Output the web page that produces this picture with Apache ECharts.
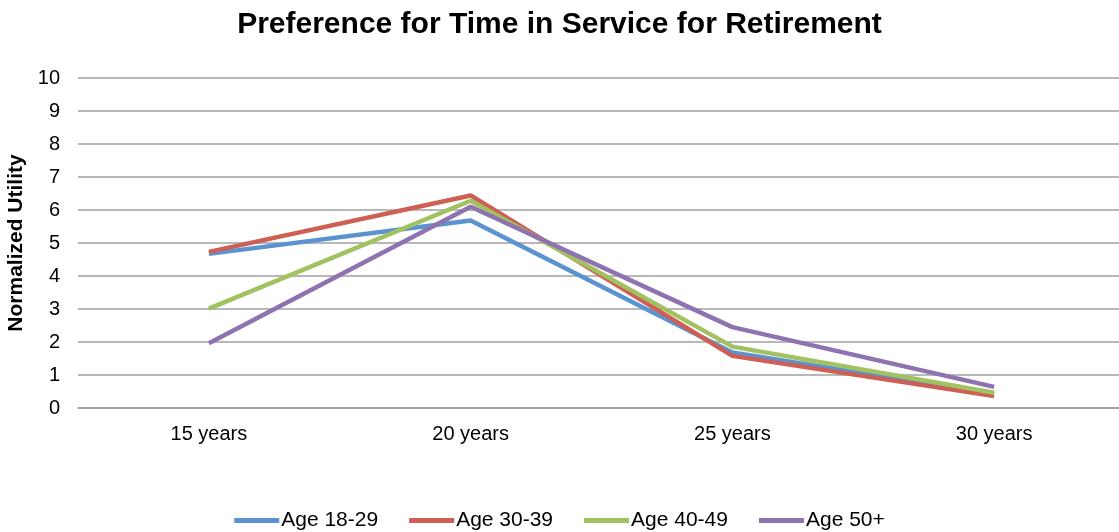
<!DOCTYPE html>
<html>
<head>
<meta charset="utf-8">
<script src="https://cdn.jsdelivr.net/npm/echarts@6/dist/echarts.min.js"></script>
<style>
html,body{margin:0;padding:0;background:#fff;}
#chart{width:1119px;height:532px;}
</style>
</head>
<body>
<div id="chart"></div>
<script>
const categories = ['15 years', '20 years', '25 years', '30 years'];
const seriesNames = ['Age 18-29', 'Age 30-39', 'Age 40-49', 'Age 50+'];
const age18_29 = [4.67, 5.68, 1.68, 0.42];
const age30_39 = [4.73, 6.44, 1.58, 0.36];
const age40_49 = [3.01, 6.28, 1.86, 0.46];
const age50plus = [1.96, 6.10, 2.45, 0.64];
const colors = ['#5A93CF', '#CD5F55', '#A2C261', '#8E73B0'];

const dataSets = [age18_29, age30_39, age40_49, age50plus];
const font = 'Liberation Sans, Arial, sans-serif';

const chart = echarts.init(document.getElementById('chart'));
chart.setOption({
  animation: false,
  color: colors,
  title: {
    text: 'Preference for Time in Service for Retirement',
    left: 'center',
    top: 5,
    textStyle: { fontFamily: font, fontSize: 30, fontWeight: 'bold', color: '#000' }
  },
  legend: {
    top: 505,
    left: 'center',
    itemWidth: 45,
    itemHeight: 5,
    itemGap: 31,
    icon: 'rect',
    textStyle: { fontFamily: font, fontSize: 21, color: '#000', padding: [0, 0, 0, -3] },
    data: seriesNames
  },
  grid: { left: 78, top: 78, width: 1047, height: 330, containLabel: false, outerBoundsMode: 'none' },
  xAxis: {
    type: 'category',
    data: categories,
    boundaryGap: true,
    axisLine: { show: true, lineStyle: { color: '#A0A0A0', width: 1.5 } },
    axisTick: { show: false },
    axisLabel: { fontFamily: font, fontSize: 20, color: '#000', margin: 16 }
  },
  yAxis: {
    type: 'value',
    min: 0, max: 10, interval: 1,
    name: 'Normalized Utility',
    nameLocation: 'middle',
    nameGap: 48,
    nameTextStyle: { fontFamily: font, fontSize: 21, fontWeight: 'bold', color: '#000' },
    axisLine: { show: false },
    axisTick: { show: false },
    axisLabel: { fontFamily: font, fontSize: 20, color: '#000', margin: 18 },
    splitLine: { lineStyle: { color: '#A0A0A0', width: 1.5 } }
  },
  series: seriesNames.map((n, i) => ({
    name: n,
    type: 'line',
    data: dataSets[i],
    symbol: 'none',
    lineStyle: { width: 4.5, color: colors[i] },
    itemStyle: { color: colors[i] }
  }))
});
</script>
</body>
</html>
